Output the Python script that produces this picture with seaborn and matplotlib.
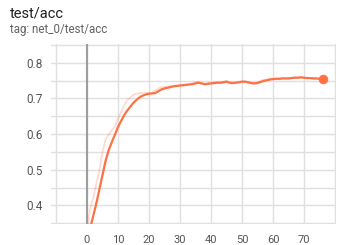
import matplotlib
matplotlib.use("Agg")
import matplotlib.pyplot as plt
import seaborn as sns
import pandas as pd
import numpy as np

steps = list(range(77))
smoothed = [0.300, 0.335, 0.370, 0.405, 0.445, 0.485, 0.525, 0.555, 0.577, 0.598,
            0.620, 0.637, 0.653, 0.666, 0.677, 0.688, 0.696, 0.703, 0.708, 0.711,
            0.713, 0.714, 0.715, 0.720, 0.725, 0.728, 0.730, 0.732, 0.734, 0.735,
            0.736, 0.737, 0.738, 0.739, 0.740, 0.742, 0.744, 0.742, 0.740, 0.741,
            0.742, 0.743, 0.744, 0.744, 0.745, 0.747, 0.744, 0.743, 0.744, 0.745,
            0.747, 0.747, 0.745, 0.743, 0.742, 0.743, 0.746, 0.749, 0.751, 0.753,
            0.754, 0.755, 0.755, 0.756, 0.756, 0.756, 0.757, 0.758, 0.758, 0.759,
            0.758, 0.757, 0.757, 0.756, 0.756, 0.755, 0.754]
raw = [0.330, 0.390, 0.420, 0.460, 0.500, 0.550, 0.585, 0.598, 0.610, 0.622,
       0.643, 0.662, 0.680, 0.695, 0.703, 0.710, 0.713, 0.715, 0.716, 0.716,
       0.715, 0.716, 0.722, 0.728, 0.732, 0.732, 0.733, 0.735, 0.736, 0.736,
       0.737, 0.738, 0.739, 0.740, 0.742, 0.746, 0.745, 0.740, 0.739, 0.742,
       0.743, 0.744, 0.745, 0.744, 0.747, 0.749, 0.743, 0.743, 0.745, 0.746,
       0.748, 0.747, 0.744, 0.742, 0.742, 0.745, 0.749, 0.752, 0.753, 0.755,
       0.755, 0.756, 0.755, 0.757, 0.756, 0.756, 0.758, 0.759, 0.758, 0.760,
       0.757, 0.757, 0.757, 0.755, 0.756, 0.754, 0.753]
x_ticks = [-10, 0, 10, 20, 30, 40, 50, 60, 70, 80]
x_labels = ["", "0", "10", "20", "30", "40", "50", "60", "70", ""]
y_ticks = [0.4, 0.5, 0.6, 0.7, 0.8]
y_minor = [0.35, 0.45, 0.55, 0.65, 0.75, 0.85]

sns.set_style("white")
plt.rcParams['font.family'] = ['Roboto', 'DejaVu Sans']

df = pd.DataFrame({"step": steps, "smoothed": smoothed, "raw": raw})
color = "#ff7043"

fig = plt.figure(figsize=(3.43, 2.45), dpi=100)
ax = fig.add_axes([51/343, 1 - 224/245, (336 - 51)/343, (224 - 44)/245])

sns.lineplot(data=df, x="step", y="raw", ax=ax, color=color, alpha=0.25, linewidth=1.3)
sns.lineplot(data=df, x="step", y="smoothed", ax=ax, color=color, linewidth=1.6)
last = df.iloc[[-1]]
sns.scatterplot(data=last, x="step", y="smoothed", ax=ax, color=color, s=40,
                edgecolor=color, zorder=5)

ax.set_xlim(-11.6, 80.3)
ax.set_ylim(0.348, 0.8525)
ax.set_xticks(x_ticks)
ax.set_xticklabels(x_labels)
ax.set_yticks(y_ticks)
ax.set_yticks(y_minor, minor=True)
ax.grid(True, which="both", color="#e0e0e0", linewidth=1.0)
ax.set_axisbelow(True)
ax.axvline(0, color="#9e9e9e", linewidth=1.5, zorder=1)
for s in ax.spines.values():
    s.set_visible(False)
ax.tick_params(axis="x", which="major", length=4, color="#cccccc",
               labelsize=8, pad=4)
ax.tick_params(axis="y", which="both", length=0, labelsize=8.5, pad=6)
for lab in ax.get_yticklabels() + ax.get_xticklabels():
    lab.set_color("#555555")
ax.set_xlabel("")
ax.set_ylabel("")

fig.text(9.5/343, 1 - 13/245, "test/acc", fontsize=10.5, color="#212121", va="center", ha="left")
fig.text(9.5/343, 1 - 29.5/245, "tag: net_0/test/acc", fontsize=8.3, color="#616161", va="center", ha="left")

fig.savefig("out.png", dpi=100)
